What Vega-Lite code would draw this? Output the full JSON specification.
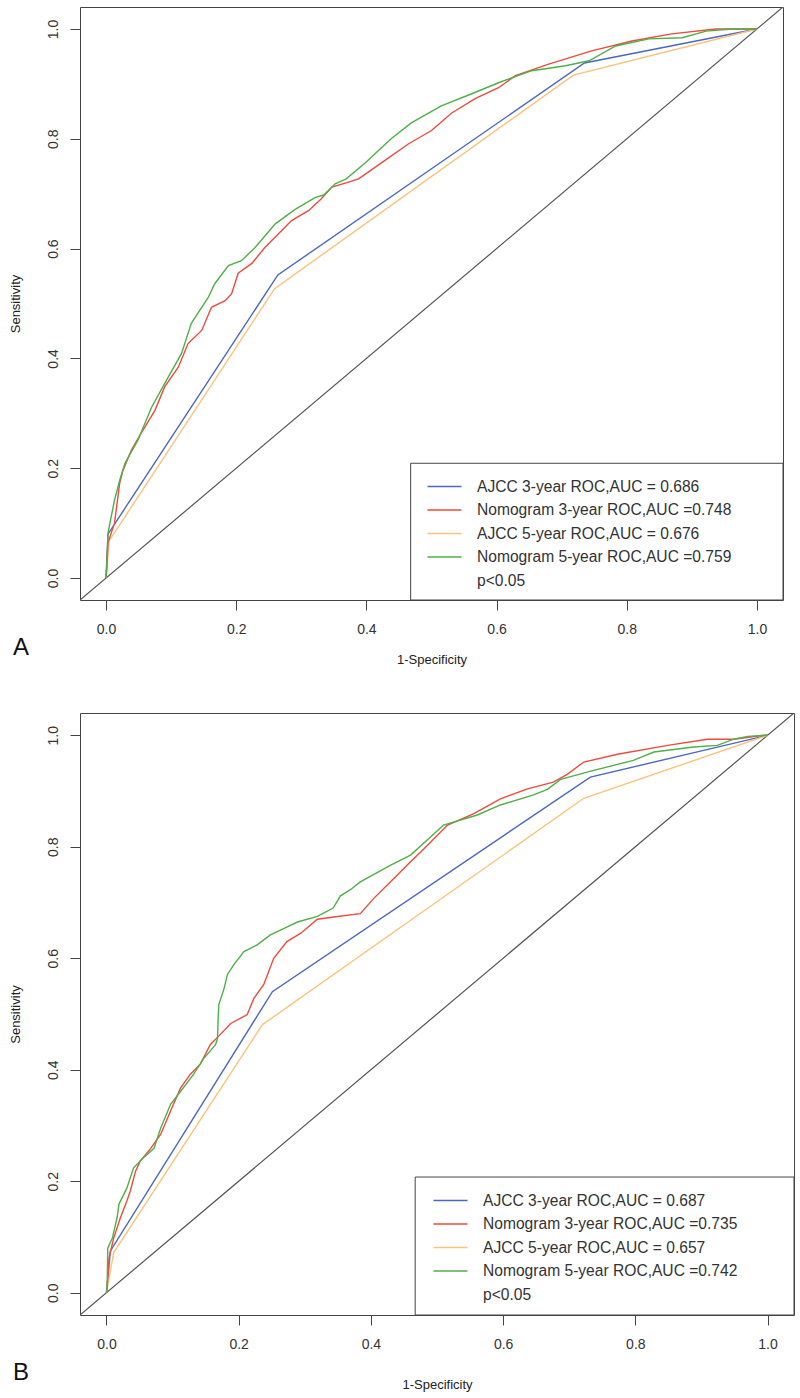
{
  "$schema": "https://vega.github.io/schema/vega-lite/v6.json",
  "padding": {"left": 8, "top": 6, "right": 5, "bottom": 5},
  "background": "white",
  "bounds": "flush",
  "spacing": 113,
  "datasets": {
    "A": [
      {"s": "AJCC 3-year ROC,AUC = 0.686", "x": 0, "y": 0},
      {"s": "AJCC 3-year ROC,AUC = 0.686", "x": 0.003, "y": 0.08},
      {"s": "AJCC 3-year ROC,AUC = 0.686", "x": 0.264, "y": 0.552},
      {"s": "AJCC 3-year ROC,AUC = 0.686", "x": 0.735, "y": 0.938},
      {"s": "AJCC 3-year ROC,AUC = 0.686", "x": 1, "y": 1},
      {"s": "AJCC 5-year ROC,AUC = 0.676", "x": 0, "y": 0},
      {"s": "AJCC 5-year ROC,AUC = 0.676", "x": 0.005, "y": 0.068},
      {"s": "AJCC 5-year ROC,AUC = 0.676", "x": 0.259, "y": 0.527},
      {"s": "AJCC 5-year ROC,AUC = 0.676", "x": 0.718, "y": 0.916},
      {"s": "AJCC 5-year ROC,AUC = 0.676", "x": 1, "y": 1},
      {"s": "Nomogram 3-year ROC,AUC =0.748", "x": 0, "y": 0},
      {"s": "Nomogram 3-year ROC,AUC =0.748", "x": 0.003, "y": 0.064},
      {"s": "Nomogram 3-year ROC,AUC =0.748", "x": 0.013, "y": 0.1},
      {"s": "Nomogram 3-year ROC,AUC =0.748", "x": 0.021, "y": 0.173},
      {"s": "Nomogram 3-year ROC,AUC =0.748", "x": 0.026, "y": 0.196},
      {"s": "Nomogram 3-year ROC,AUC =0.748", "x": 0.039, "y": 0.233},
      {"s": "Nomogram 3-year ROC,AUC =0.748", "x": 0.054, "y": 0.264},
      {"s": "Nomogram 3-year ROC,AUC =0.748", "x": 0.075, "y": 0.305},
      {"s": "Nomogram 3-year ROC,AUC =0.748", "x": 0.09, "y": 0.348},
      {"s": "Nomogram 3-year ROC,AUC =0.748", "x": 0.111, "y": 0.384},
      {"s": "Nomogram 3-year ROC,AUC =0.748", "x": 0.126, "y": 0.427},
      {"s": "Nomogram 3-year ROC,AUC =0.748", "x": 0.147, "y": 0.451},
      {"s": "Nomogram 3-year ROC,AUC =0.748", "x": 0.162, "y": 0.493},
      {"s": "Nomogram 3-year ROC,AUC =0.748", "x": 0.183, "y": 0.505},
      {"s": "Nomogram 3-year ROC,AUC =0.748", "x": 0.193, "y": 0.518},
      {"s": "Nomogram 3-year ROC,AUC =0.748", "x": 0.203, "y": 0.555},
      {"s": "Nomogram 3-year ROC,AUC =0.748", "x": 0.224, "y": 0.573},
      {"s": "Nomogram 3-year ROC,AUC =0.748", "x": 0.244, "y": 0.602},
      {"s": "Nomogram 3-year ROC,AUC =0.748", "x": 0.265, "y": 0.627},
      {"s": "Nomogram 3-year ROC,AUC =0.748", "x": 0.285, "y": 0.651},
      {"s": "Nomogram 3-year ROC,AUC =0.748", "x": 0.311, "y": 0.669},
      {"s": "Nomogram 3-year ROC,AUC =0.748", "x": 0.33, "y": 0.69},
      {"s": "Nomogram 3-year ROC,AUC =0.748", "x": 0.347, "y": 0.712},
      {"s": "Nomogram 3-year ROC,AUC =0.748", "x": 0.37, "y": 0.72},
      {"s": "Nomogram 3-year ROC,AUC =0.748", "x": 0.388, "y": 0.727},
      {"s": "Nomogram 3-year ROC,AUC =0.748", "x": 0.423, "y": 0.756},
      {"s": "Nomogram 3-year ROC,AUC =0.748", "x": 0.465, "y": 0.791},
      {"s": "Nomogram 3-year ROC,AUC =0.748", "x": 0.5, "y": 0.815},
      {"s": "Nomogram 3-year ROC,AUC =0.748", "x": 0.531, "y": 0.847},
      {"s": "Nomogram 3-year ROC,AUC =0.748", "x": 0.567, "y": 0.873},
      {"s": "Nomogram 3-year ROC,AUC =0.748", "x": 0.603, "y": 0.893},
      {"s": "Nomogram 3-year ROC,AUC =0.748", "x": 0.629, "y": 0.915},
      {"s": "Nomogram 3-year ROC,AUC =0.748", "x": 0.68, "y": 0.936},
      {"s": "Nomogram 3-year ROC,AUC =0.748", "x": 0.746, "y": 0.96},
      {"s": "Nomogram 3-year ROC,AUC =0.748", "x": 0.808, "y": 0.978},
      {"s": "Nomogram 3-year ROC,AUC =0.748", "x": 0.869, "y": 0.991},
      {"s": "Nomogram 3-year ROC,AUC =0.748", "x": 0.937, "y": 1.0},
      {"s": "Nomogram 3-year ROC,AUC =0.748", "x": 1, "y": 1},
      {"s": "Nomogram 5-year ROC,AUC =0.759", "x": 0, "y": 0},
      {"s": "Nomogram 5-year ROC,AUC =0.759", "x": 0.001, "y": 0.015},
      {"s": "Nomogram 5-year ROC,AUC =0.759", "x": 0.003, "y": 0.082},
      {"s": "Nomogram 5-year ROC,AUC =0.759", "x": 0.013, "y": 0.142},
      {"s": "Nomogram 5-year ROC,AUC =0.759", "x": 0.021, "y": 0.178},
      {"s": "Nomogram 5-year ROC,AUC =0.759", "x": 0.029, "y": 0.209},
      {"s": "Nomogram 5-year ROC,AUC =0.759", "x": 0.049, "y": 0.251},
      {"s": "Nomogram 5-year ROC,AUC =0.759", "x": 0.07, "y": 0.311},
      {"s": "Nomogram 5-year ROC,AUC =0.759", "x": 0.09, "y": 0.354},
      {"s": "Nomogram 5-year ROC,AUC =0.759", "x": 0.116, "y": 0.409},
      {"s": "Nomogram 5-year ROC,AUC =0.759", "x": 0.131, "y": 0.464},
      {"s": "Nomogram 5-year ROC,AUC =0.759", "x": 0.157, "y": 0.511},
      {"s": "Nomogram 5-year ROC,AUC =0.759", "x": 0.167, "y": 0.536},
      {"s": "Nomogram 5-year ROC,AUC =0.759", "x": 0.188, "y": 0.569},
      {"s": "Nomogram 5-year ROC,AUC =0.759", "x": 0.208, "y": 0.578},
      {"s": "Nomogram 5-year ROC,AUC =0.759", "x": 0.229, "y": 0.602},
      {"s": "Nomogram 5-year ROC,AUC =0.759", "x": 0.26, "y": 0.645},
      {"s": "Nomogram 5-year ROC,AUC =0.759", "x": 0.29, "y": 0.671},
      {"s": "Nomogram 5-year ROC,AUC =0.759", "x": 0.321, "y": 0.693},
      {"s": "Nomogram 5-year ROC,AUC =0.759", "x": 0.335, "y": 0.698},
      {"s": "Nomogram 5-year ROC,AUC =0.759", "x": 0.352, "y": 0.718},
      {"s": "Nomogram 5-year ROC,AUC =0.759", "x": 0.369, "y": 0.727},
      {"s": "Nomogram 5-year ROC,AUC =0.759", "x": 0.398, "y": 0.756},
      {"s": "Nomogram 5-year ROC,AUC =0.759", "x": 0.438, "y": 0.8},
      {"s": "Nomogram 5-year ROC,AUC =0.759", "x": 0.469, "y": 0.829},
      {"s": "Nomogram 5-year ROC,AUC =0.759", "x": 0.515, "y": 0.86},
      {"s": "Nomogram 5-year ROC,AUC =0.759", "x": 0.562, "y": 0.882},
      {"s": "Nomogram 5-year ROC,AUC =0.759", "x": 0.603, "y": 0.902},
      {"s": "Nomogram 5-year ROC,AUC =0.759", "x": 0.654, "y": 0.924},
      {"s": "Nomogram 5-year ROC,AUC =0.759", "x": 0.706, "y": 0.933},
      {"s": "Nomogram 5-year ROC,AUC =0.759", "x": 0.742, "y": 0.942},
      {"s": "Nomogram 5-year ROC,AUC =0.759", "x": 0.783, "y": 0.969},
      {"s": "Nomogram 5-year ROC,AUC =0.759", "x": 0.834, "y": 0.982},
      {"s": "Nomogram 5-year ROC,AUC =0.759", "x": 0.885, "y": 0.984},
      {"s": "Nomogram 5-year ROC,AUC =0.759", "x": 0.922, "y": 0.996},
      {"s": "Nomogram 5-year ROC,AUC =0.759", "x": 0.962, "y": 1.0},
      {"s": "Nomogram 5-year ROC,AUC =0.759", "x": 1, "y": 1}
    ],
    "B": [
      {"s": "AJCC 3-year ROC,AUC = 0.687", "x": 0, "y": 0},
      {"s": "AJCC 3-year ROC,AUC = 0.687", "x": 0.006, "y": 0.075},
      {"s": "AJCC 3-year ROC,AUC = 0.687", "x": 0.251, "y": 0.54},
      {"s": "AJCC 3-year ROC,AUC = 0.687", "x": 0.732, "y": 0.925},
      {"s": "AJCC 3-year ROC,AUC = 0.687", "x": 1, "y": 1},
      {"s": "AJCC 5-year ROC,AUC = 0.657", "x": 0, "y": 0},
      {"s": "AJCC 5-year ROC,AUC = 0.657", "x": 0.011, "y": 0.072},
      {"s": "AJCC 5-year ROC,AUC = 0.657", "x": 0.236, "y": 0.481},
      {"s": "AJCC 5-year ROC,AUC = 0.657", "x": 0.722, "y": 0.887},
      {"s": "AJCC 5-year ROC,AUC = 0.657", "x": 1, "y": 1},
      {"s": "Nomogram 3-year ROC,AUC =0.735", "x": 0, "y": 0},
      {"s": "Nomogram 3-year ROC,AUC =0.735", "x": 0.001, "y": 0.009},
      {"s": "Nomogram 3-year ROC,AUC =0.735", "x": 0.004, "y": 0.063},
      {"s": "Nomogram 3-year ROC,AUC =0.735", "x": 0.011, "y": 0.098},
      {"s": "Nomogram 3-year ROC,AUC =0.735", "x": 0.021, "y": 0.134},
      {"s": "Nomogram 3-year ROC,AUC =0.735", "x": 0.031, "y": 0.165},
      {"s": "Nomogram 3-year ROC,AUC =0.735", "x": 0.036, "y": 0.182},
      {"s": "Nomogram 3-year ROC,AUC =0.735", "x": 0.044, "y": 0.218},
      {"s": "Nomogram 3-year ROC,AUC =0.735", "x": 0.051, "y": 0.236},
      {"s": "Nomogram 3-year ROC,AUC =0.735", "x": 0.067, "y": 0.259},
      {"s": "Nomogram 3-year ROC,AUC =0.735", "x": 0.082, "y": 0.284},
      {"s": "Nomogram 3-year ROC,AUC =0.735", "x": 0.097, "y": 0.326},
      {"s": "Nomogram 3-year ROC,AUC =0.735", "x": 0.112, "y": 0.367},
      {"s": "Nomogram 3-year ROC,AUC =0.735", "x": 0.127, "y": 0.392},
      {"s": "Nomogram 3-year ROC,AUC =0.735", "x": 0.142, "y": 0.41},
      {"s": "Nomogram 3-year ROC,AUC =0.735", "x": 0.157, "y": 0.445},
      {"s": "Nomogram 3-year ROC,AUC =0.735", "x": 0.172, "y": 0.463},
      {"s": "Nomogram 3-year ROC,AUC =0.735", "x": 0.188, "y": 0.483},
      {"s": "Nomogram 3-year ROC,AUC =0.735", "x": 0.213, "y": 0.499},
      {"s": "Nomogram 3-year ROC,AUC =0.735", "x": 0.223, "y": 0.528},
      {"s": "Nomogram 3-year ROC,AUC =0.735", "x": 0.238, "y": 0.553},
      {"s": "Nomogram 3-year ROC,AUC =0.735", "x": 0.253, "y": 0.6},
      {"s": "Nomogram 3-year ROC,AUC =0.735", "x": 0.273, "y": 0.63},
      {"s": "Nomogram 3-year ROC,AUC =0.735", "x": 0.294, "y": 0.645},
      {"s": "Nomogram 3-year ROC,AUC =0.735", "x": 0.319, "y": 0.67},
      {"s": "Nomogram 3-year ROC,AUC =0.735", "x": 0.344, "y": 0.674},
      {"s": "Nomogram 3-year ROC,AUC =0.735", "x": 0.384, "y": 0.68},
      {"s": "Nomogram 3-year ROC,AUC =0.735", "x": 0.404, "y": 0.707},
      {"s": "Nomogram 3-year ROC,AUC =0.735", "x": 0.434, "y": 0.742},
      {"s": "Nomogram 3-year ROC,AUC =0.735", "x": 0.46, "y": 0.773},
      {"s": "Nomogram 3-year ROC,AUC =0.735", "x": 0.48, "y": 0.796},
      {"s": "Nomogram 3-year ROC,AUC =0.735", "x": 0.516, "y": 0.839},
      {"s": "Nomogram 3-year ROC,AUC =0.735", "x": 0.555, "y": 0.859},
      {"s": "Nomogram 3-year ROC,AUC =0.735", "x": 0.596, "y": 0.886},
      {"s": "Nomogram 3-year ROC,AUC =0.735", "x": 0.637, "y": 0.904},
      {"s": "Nomogram 3-year ROC,AUC =0.735", "x": 0.676, "y": 0.916},
      {"s": "Nomogram 3-year ROC,AUC =0.735", "x": 0.697, "y": 0.93},
      {"s": "Nomogram 3-year ROC,AUC =0.735", "x": 0.722, "y": 0.952},
      {"s": "Nomogram 3-year ROC,AUC =0.735", "x": 0.773, "y": 0.966},
      {"s": "Nomogram 3-year ROC,AUC =0.735", "x": 0.849, "y": 0.982},
      {"s": "Nomogram 3-year ROC,AUC =0.735", "x": 0.909, "y": 0.993},
      {"s": "Nomogram 3-year ROC,AUC =0.735", "x": 0.949, "y": 0.993},
      {"s": "Nomogram 3-year ROC,AUC =0.735", "x": 0.994, "y": 1.0},
      {"s": "Nomogram 3-year ROC,AUC =0.735", "x": 1, "y": 1},
      {"s": "Nomogram 5-year ROC,AUC =0.742", "x": 0, "y": 0},
      {"s": "Nomogram 5-year ROC,AUC =0.742", "x": 0.001, "y": 0.009},
      {"s": "Nomogram 5-year ROC,AUC =0.742", "x": 0.002, "y": 0.08},
      {"s": "Nomogram 5-year ROC,AUC =0.742", "x": 0.009, "y": 0.098},
      {"s": "Nomogram 5-year ROC,AUC =0.742", "x": 0.016, "y": 0.134},
      {"s": "Nomogram 5-year ROC,AUC =0.742", "x": 0.019, "y": 0.159},
      {"s": "Nomogram 5-year ROC,AUC =0.742", "x": 0.031, "y": 0.188},
      {"s": "Nomogram 5-year ROC,AUC =0.742", "x": 0.041, "y": 0.224},
      {"s": "Nomogram 5-year ROC,AUC =0.742", "x": 0.056, "y": 0.242},
      {"s": "Nomogram 5-year ROC,AUC =0.742", "x": 0.072, "y": 0.259},
      {"s": "Nomogram 5-year ROC,AUC =0.742", "x": 0.082, "y": 0.295},
      {"s": "Nomogram 5-year ROC,AUC =0.742", "x": 0.097, "y": 0.338},
      {"s": "Nomogram 5-year ROC,AUC =0.742", "x": 0.112, "y": 0.361},
      {"s": "Nomogram 5-year ROC,AUC =0.742", "x": 0.132, "y": 0.392},
      {"s": "Nomogram 5-year ROC,AUC =0.742", "x": 0.147, "y": 0.42},
      {"s": "Nomogram 5-year ROC,AUC =0.742", "x": 0.165, "y": 0.445},
      {"s": "Nomogram 5-year ROC,AUC =0.742", "x": 0.168, "y": 0.456},
      {"s": "Nomogram 5-year ROC,AUC =0.742", "x": 0.169, "y": 0.492},
      {"s": "Nomogram 5-year ROC,AUC =0.742", "x": 0.17, "y": 0.517},
      {"s": "Nomogram 5-year ROC,AUC =0.742", "x": 0.178, "y": 0.546},
      {"s": "Nomogram 5-year ROC,AUC =0.742", "x": 0.183, "y": 0.571},
      {"s": "Nomogram 5-year ROC,AUC =0.742", "x": 0.193, "y": 0.589},
      {"s": "Nomogram 5-year ROC,AUC =0.742", "x": 0.208, "y": 0.612},
      {"s": "Nomogram 5-year ROC,AUC =0.742", "x": 0.228, "y": 0.624},
      {"s": "Nomogram 5-year ROC,AUC =0.742", "x": 0.248, "y": 0.642},
      {"s": "Nomogram 5-year ROC,AUC =0.742", "x": 0.268, "y": 0.653},
      {"s": "Nomogram 5-year ROC,AUC =0.742", "x": 0.289, "y": 0.665},
      {"s": "Nomogram 5-year ROC,AUC =0.742", "x": 0.319, "y": 0.675},
      {"s": "Nomogram 5-year ROC,AUC =0.742", "x": 0.343, "y": 0.69},
      {"s": "Nomogram 5-year ROC,AUC =0.742", "x": 0.354, "y": 0.712},
      {"s": "Nomogram 5-year ROC,AUC =0.742", "x": 0.369, "y": 0.723},
      {"s": "Nomogram 5-year ROC,AUC =0.742", "x": 0.384, "y": 0.737},
      {"s": "Nomogram 5-year ROC,AUC =0.742", "x": 0.43, "y": 0.767},
      {"s": "Nomogram 5-year ROC,AUC =0.742", "x": 0.46, "y": 0.785},
      {"s": "Nomogram 5-year ROC,AUC =0.742", "x": 0.51, "y": 0.839},
      {"s": "Nomogram 5-year ROC,AUC =0.742", "x": 0.561, "y": 0.857},
      {"s": "Nomogram 5-year ROC,AUC =0.742", "x": 0.596, "y": 0.875},
      {"s": "Nomogram 5-year ROC,AUC =0.742", "x": 0.646, "y": 0.893},
      {"s": "Nomogram 5-year ROC,AUC =0.742", "x": 0.667, "y": 0.903},
      {"s": "Nomogram 5-year ROC,AUC =0.742", "x": 0.687, "y": 0.921},
      {"s": "Nomogram 5-year ROC,AUC =0.742", "x": 0.737, "y": 0.937},
      {"s": "Nomogram 5-year ROC,AUC =0.742", "x": 0.797, "y": 0.955},
      {"s": "Nomogram 5-year ROC,AUC =0.742", "x": 0.828, "y": 0.97},
      {"s": "Nomogram 5-year ROC,AUC =0.742", "x": 0.888, "y": 0.979},
      {"s": "Nomogram 5-year ROC,AUC =0.742", "x": 0.924, "y": 0.982},
      {"s": "Nomogram 5-year ROC,AUC =0.742", "x": 0.949, "y": 0.993},
      {"s": "Nomogram 5-year ROC,AUC =0.742", "x": 0.97, "y": 0.998},
      {"s": "Nomogram 5-year ROC,AUC =0.742", "x": 1, "y": 1}
    ]
  },
  "config": {
    "font": "Liberation Sans",
    "view": {"stroke": "#444", "strokeWidth": 1},
    "axis": {
      "domain": false, "grid": false, "tickColor": "#444", "tickSize": 10, "tickWidth": 1,
      "labelFont": "Liberation Sans", "labelFontSize": 14, "labelColor": "#333",
      "titleFont": "Liberation Sans", "titleFontSize": 13, "titleFontWeight": "normal", "titleColor": "#222"
    },
    "legend": {
      "orient": "none", "title": null, "symbolType": "M-2.27,0H2.27", "symbolStrokeWidth": 1.5,
      "symbolSize": 225, "labelFont": "Liberation Sans", "labelFontSize": 15.6, "labelColor": "#333",
      "labelOffset": 24, "rowPadding": 5.5, "padding": 0, "labelLimit": 400
    },
    "title": {"font": "Liberation Sans", "fontSize": 24, "fontWeight": "normal", "color": "#111"}
  },
  "resolve": {"scale": {"color": "independent"}, "legend": {"color": "independent"}},
  "vconcat": [
    {
      "width": 703, "height": 593,
      "title": {"text": "A", "orient": "bottom", "anchor": "start", "frame": "bounds", "dx": 4, "dy": -30, "offset": 0},
      "layer": [
        {
          "data": {"values": [{}]},
          "mark": {"type": "rule", "color": "#555", "strokeWidth": 1.2, "clip": true},
          "encoding": {
            "x": {"datum": -0.04, "type": "quantitative", "scale": {"domain": [-0.04, 1.04], "nice": false, "zero": false}},
            "y": {"datum": -0.04, "type": "quantitative", "scale": {"domain": [-0.04, 1.04], "nice": false, "zero": false}},
            "x2": {"datum": 1.04}, "y2": {"datum": 1.04}
          }
        },
        {
          "data": {"values": [{}]},
          "mark": {"type": "rect", "fill": "white", "stroke": "#444", "strokeWidth": 1},
          "encoding": {
            "x": {"datum": 0.468, "type": "quantitative"}, "x2": {"datum": 1.04},
            "y": {"datum": -0.04, "type": "quantitative"}, "y2": {"datum": 0.209}
          }
        },
        {
          "data": {"name": "A"},
          "mark": {"type": "line", "strokeWidth": 1.4, "clip": true},
          "encoding": {
            "x": {"field": "x", "type": "quantitative", "title": "1-Specificity",
                  "axis": {"values": [0, 0.2, 0.4, 0.6, 0.8, 1], "format": ".1f", "labelPadding": 12, "titlePadding": 17}},
            "y": {"field": "y", "type": "quantitative", "title": "Sensitivity",
                  "axis": {"values": [0, 0.2, 0.4, 0.6, 0.8, 1], "format": ".1f", "labelAngle": 270, "labelAlign": "center", "labelBaseline": "bottom", "labelPadding": 10, "titlePadding": 24}},
            "color": {"field": "s", "type": "nominal",
              "scale": {"domain": ["AJCC 3-year ROC,AUC = 0.686", "Nomogram 3-year ROC,AUC =0.748", "AJCC 5-year ROC,AUC = 0.676", "Nomogram 5-year ROC,AUC =0.759", "p<0.05"],
                        "range": ["#4b68c4", "#ee4b3e", "#fbc37a", "#4fb048", "transparent"]},
              "legend": {"legendX": 356, "legendY": 471}}
          }
        }
      ]
    },
    {
      "width": 714, "height": 602,
      "title": {"text": "B", "orient": "bottom", "anchor": "start", "frame": "bounds", "dx": 4, "dy": -30, "offset": 0},
      "layer": [
        {
          "data": {"values": [{}]},
          "mark": {"type": "rule", "color": "#555", "strokeWidth": 1.2, "clip": true},
          "encoding": {
            "x": {"datum": -0.04, "type": "quantitative", "scale": {"domain": [-0.04, 1.04], "nice": false, "zero": false}},
            "y": {"datum": -0.04, "type": "quantitative", "scale": {"domain": [-0.04, 1.04], "nice": false, "zero": false}},
            "x2": {"datum": 1.04}, "y2": {"datum": 1.04}
          }
        },
        {
          "data": {"values": [{}]},
          "mark": {"type": "rect", "fill": "white", "stroke": "#444", "strokeWidth": 1},
          "encoding": {
            "x": {"datum": 0.467, "type": "quantitative"}, "x2": {"datum": 1.04},
            "y": {"datum": -0.04, "type": "quantitative"}, "y2": {"datum": 0.2075}
          }
        },
        {
          "data": {"name": "B"},
          "mark": {"type": "line", "strokeWidth": 1.4, "clip": true},
          "encoding": {
            "x": {"field": "x", "type": "quantitative", "title": "1-Specificity",
                  "axis": {"values": [0, 0.2, 0.4, 0.6, 0.8, 1], "format": ".1f", "labelPadding": 12, "titlePadding": 27}},
            "y": {"field": "y", "type": "quantitative", "title": "Sensitivity",
                  "axis": {"values": [0, 0.2, 0.4, 0.6, 0.8, 1], "format": ".1f", "labelAngle": 270, "labelAlign": "center", "labelBaseline": "bottom", "labelPadding": 10, "titlePadding": 24}},
            "color": {"field": "s", "type": "nominal",
              "scale": {"domain": ["AJCC 3-year ROC,AUC = 0.687", "Nomogram 3-year ROC,AUC =0.735", "AJCC 5-year ROC,AUC = 0.657", "Nomogram 5-year ROC,AUC =0.742", "p<0.05"],
                        "range": ["#4b68c4", "#ee4b3e", "#fbc37a", "#4fb048", "transparent"]},
              "legend": {"legendX": 362, "legendY": 479}}
          }
        }
      ]
    }
  ]
}
